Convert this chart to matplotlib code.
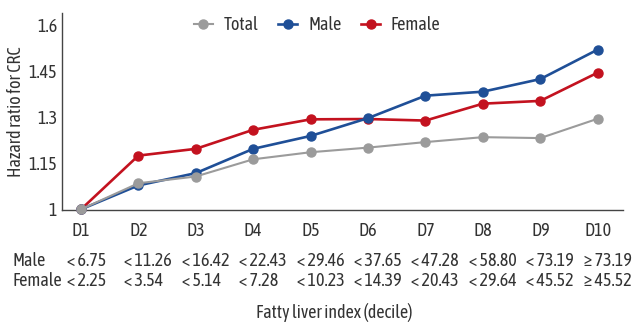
import matplotlib
matplotlib.use("Agg")
import matplotlib.pyplot as plt
import matplotlib.transforms as mtransforms

# Data
deciles = ["D1", "D2", "D3", "D4", "D5", "D6", "D7", "D8", "D9", "D10"]
total = [1.0, 1.085, 1.107, 1.163, 1.186, 1.201, 1.219, 1.235, 1.232, 1.295]
male = [1.0, 1.078, 1.118, 1.197, 1.239, 1.297, 1.370, 1.383, 1.424, 1.520]
female = [1.0, 1.175, 1.197, 1.259, 1.293, 1.294, 1.289, 1.344, 1.353, 1.445]
male_cut = ["< 6.75", "< 11.26", "< 16.42", "< 22.43", "< 29.46",
            "< 37.65", "< 47.28", "< 58.80", "< 73.19", "\u2265 73.19"]
female_cut = ["< 2.25", "< 3.54", "< 5.14", "< 7.28", "< 10.23",
              "< 14.39", "< 20.43", "< 29.64", "< 45.52", "\u2265 45.52"]
yticks = [1, 1.15, 1.3, 1.45, 1.6]
ytick_labels = ["1", "1.15", "1.3", "1.45", "1.6"]

GRAY = "#9b9b9b"
BLUE = "#1f4f97"
RED = "#c3121f"
TXT = "#333333"

plt.rcParams["font.family"] = ["Asap Condensed", "DejaVu Sans"]

fig = plt.figure(figsize=(6.33, 3.25), dpi=100)
ax = fig.add_axes([62 / 633, 115 / 325, (623 - 62) / 633, (210 - 13) / 325])

x = list(range(len(deciles)))
lf, = ax.plot(x, female, color=RED, lw=1.9, marker="o", ms=6.5, label="Female",
              clip_on=False, zorder=3)
lm, = ax.plot(x, male, color=BLUE, lw=1.9, marker="o", ms=6.5, label="Male",
              clip_on=False, zorder=4)
lt, = ax.plot(x, total, color=GRAY, lw=1.5, marker="o", ms=6.5, label="Total",
              clip_on=False, zorder=5)

ax.set_xlim(-0.33, 9.44)
ax.set_ylim(0.998, 1.639)
ax.set_xticks(x)
ax.set_xticklabels(deciles)
ax.set_yticks(yticks)
ax.set_yticklabels(ytick_labels)
ax.tick_params(length=0, labelsize=13, colors=TXT)
ax.tick_params(axis="y", pad=3.5)
ax.tick_params(axis="x", pad=9)

for s in ["top", "right"]:
    ax.spines[s].set_visible(False)
for s in ["left", "bottom"]:
    ax.spines[s].set_color("#444444")
    ax.spines[s].set_linewidth(1.0)

ax.set_ylabel("Hazard ratio for CRC", fontsize=13, color=TXT)
ax.yaxis.set_label_coords((25 - 62) / 561, 0.5)

ax.legend(handles=[lt, lm, lf], loc="center", bbox_to_anchor=(0.455, 1 - 12 / 197),
          ncol=3, frameon=False, fontsize=13, handlelength=1.05,
          columnspacing=1.1, handletextpad=0.6, labelcolor=TXT)

# cut-off table under the axis
trans = mtransforms.blended_transform_factory(ax.transData, fig.transFigure)
fig.text(13 / 633, 1 - 261 / 325, "Male", fontsize=13, color=TXT, va="center")
fig.text(13 / 633, 1 - 281 / 325, "Female", fontsize=13, color=TXT, va="center")
for i in x:
    ax.text(i - 0.245, 1 - 261 / 325, male_cut[i], transform=trans, fontsize=13,
            color=TXT, va="center", ha="left")
    ax.text(i - 0.245, 1 - 281 / 325, female_cut[i], transform=trans, fontsize=13,
            color=TXT, va="center", ha="left")

fig.text(334 / 633, 1 - 312 / 325, "Fatty liver index (decile)", fontsize=13,
         color=TXT, ha="center", va="center")

fig.savefig("out.png", dpi=100)
